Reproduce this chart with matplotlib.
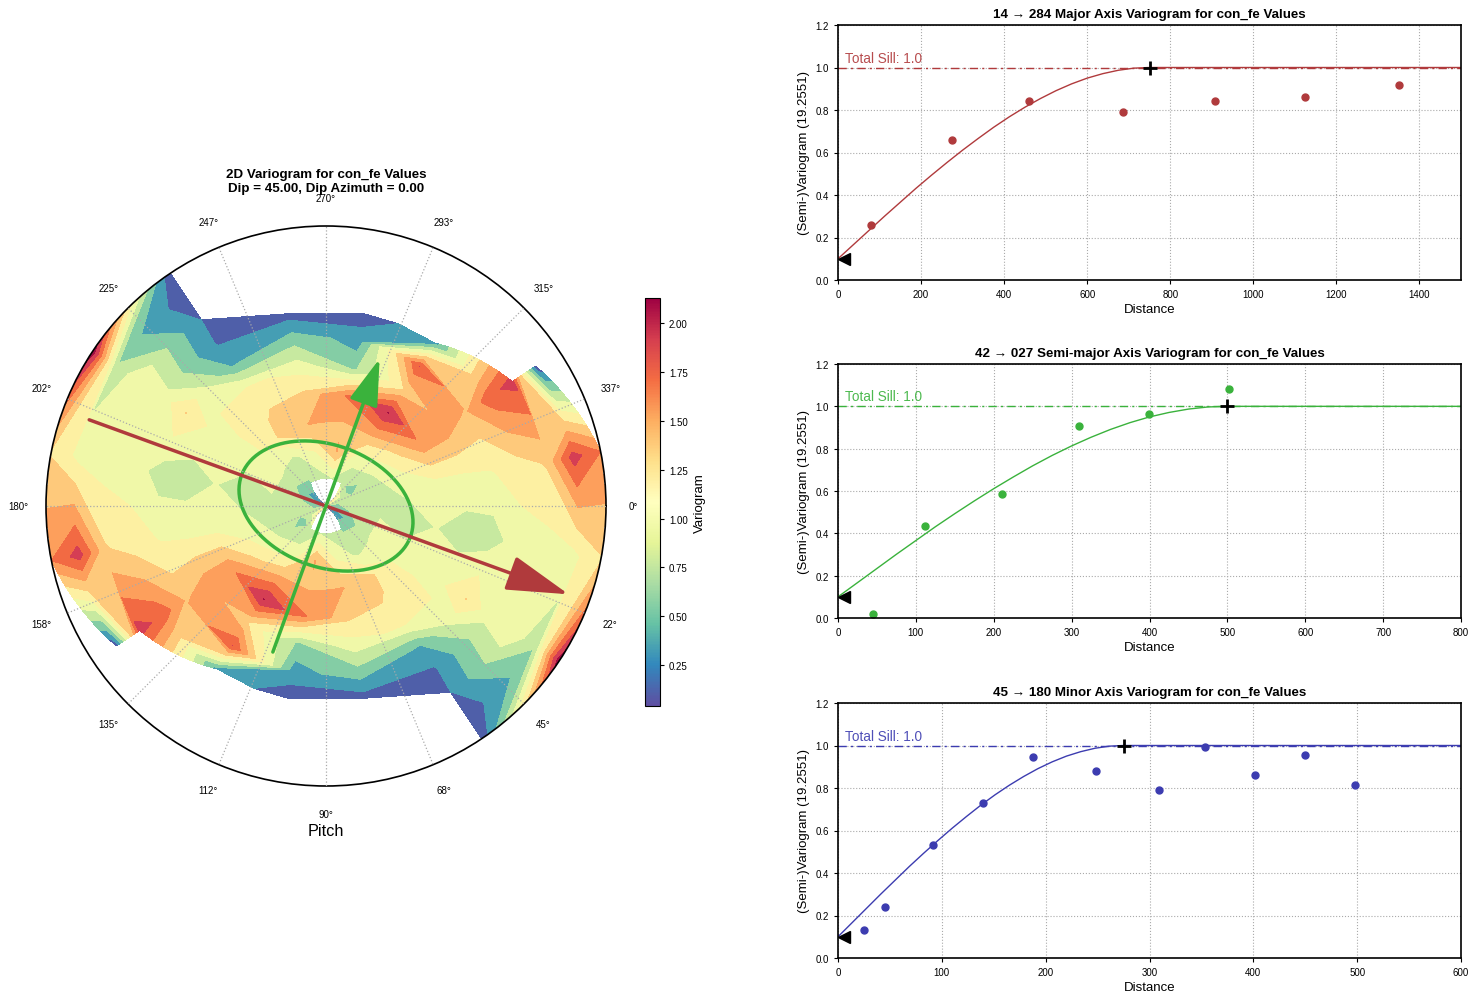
import numpy as np
import matplotlib
matplotlib.use('Agg')
import matplotlib.pyplot as plt
from matplotlib.cm import ScalarMappable
from matplotlib.colors import Normalize

plt.rcParams['font.family'] = ['Liberation Sans', 'DejaVu Sans']

nan = float('nan')

# variogram map, one row per direction, one column per lag (map repeats after 180 deg)
map_dirs = [11.25, 33.75, 56.25, 78.75, 101.25, 123.75, 146.25, 168.75]
map_lags = [0, 1, 2, 3, 4, 5, 6, 7, 8, 9, 10]
map_values = [
    [0.30, 0.66, 0.796, 0.68, 0.806, 0.70, 0.70, 0.90, 0.92, 0.94, 1.18],
    [0.04, 0.50, 0.84, 0.90, 0.944, 0.97, 1.206, 0.88, 0.98, 0.62, 2.13],
    [nan, 0.58, 0.73, 1.22, 1.19, 1.06, 0.39, 0.18, 0.196, 0.08, 0.06],
    [nan, 0.70, 1.00, 1.41, 1.26, 0.92, 0.534, 0.10, nan, nan, nan],
    [nan, 0.78, 1.41, 1.38, 1.62, 0.56, 0.30, 0.10, nan, nan, nan],
    [nan, 0.72, 0.84, 1.40, 2.004, 1.196, 1.806, 0.32, nan, nan, nan],
    [1.24, 0.47, 0.80, 1.10, 1.54, 1.52, 1.37, 1.72, 1.88, 0.06, nan],
    [0.50, 0.72, 0.72, 0.86, 0.92, 0.94, 0.98, 1.10, 1.22, 1.89, 1.60],
]
map_min = 0.04
map_max = 2.13
band_colors = ['#4f5fa9', '#459eb4', '#84cda5', '#c7e9a0', '#f0f8a8', '#fdf0a2',
               '#fec97b', '#fd9f5c', '#f26a43', '#d53e54', '#a00f43']
pitch_ticks = [0, 22.5, 45, 67.5, 90, 112.5, 135, 157.5, 180, 202.5, 225, 247.5, 270, 292.5, 315, 337.5]
pitch_labels = ['0°', '22°', '45°', '68°', '90°', '112°', '135°', '158°',
                '180°', '202°', '225°', '247°', '270°', '293°', '315°', '337°']

# direction, arrow tip and tail length in lag units
major_dir = 20.0
major_tip = 9.22
major_tail = 9.0
semi_dir = 290.0
semi_tip = 5.6
semi_tail = 5.55
ell_major = 3.21
ell_semi = 2.18

red = '#b03a3c'
green = '#3ab23c'
blue = '#3c3cb0'

# experimental points
major_x = [79, 274, 460, 686, 908, 1124, 1351]
major_y = [0.259, 0.659, 0.842, 0.790, 0.842, 0.861, 0.918]
semi_x = [45, 112, 211, 309, 399, 502]
semi_y = [0.019, 0.435, 0.586, 0.907, 0.964, 1.082]
minor_x = [25, 45, 91.5, 140, 188, 248, 309, 353, 402, 450, 498]
minor_y = [0.132, 0.240, 0.532, 0.729, 0.946, 0.880, 0.791, 0.993, 0.861, 0.955, 0.814]

# fitted model lines
model_y = [0.100, 0.167, 0.234, 0.301, 0.366, 0.431, 0.493, 0.553, 0.611, 0.666, 0.719,
           0.768, 0.813, 0.854, 0.891, 0.923, 0.950, 0.971, 0.987, 0.997, 1.000, 1.000]
major_model_x = [0, 37.5, 75, 112.5, 150, 187.5, 225, 262.5, 300, 337.5, 375,
                 412.5, 450, 487.5, 525, 562.5, 600, 637.5, 675, 712.5, 750, 1500]
semi_model_x = [0, 25, 50, 75, 100, 125, 150, 175, 200, 225, 250,
                275, 300, 325, 350, 375, 400, 425, 450, 475, 500, 800]
minor_model_x = [0, 13.75, 27.5, 41.25, 55, 68.75, 82.5, 96.25, 110, 123.75, 137.5,
                 151.25, 165, 178.75, 192.5, 206.25, 220, 233.75, 247.5, 261.25, 275, 600]


fig = plt.figure(figsize=(14.79, 10.03), dpi=100)

# polar map
ax = fig.add_axes([46 / 1479, 216 / 1003, 560 / 1479, 560 / 1003], projection='polar')
half = np.array(map_values)
z = np.ma.masked_invalid(np.vstack([half, half, half[:1]]))
theta = np.deg2rad(map_dirs + [d + 180 for d in map_dirs] + [map_dirs[0] + 360])
ax.set_theta_direction(-1)
ax.set_theta_offset(0)
levels = np.arange(0, 2.21, 0.2)
ax.contourf(theta, map_lags, z.T, levels=levels, colors=band_colors)
ax.set_ylim(0, 10)
ax.set_yticks([])
ax.set_xticks(np.deg2rad(pitch_ticks))
ax.set_xticklabels(pitch_labels)
ax.tick_params(axis='x', labelsize=7, pad=13, length=0)
ax.grid(True, linestyle=':', color='#aaaaaa', linewidth=0.9)
ax.set_axisbelow(False)
ax.spines['polar'].set_linewidth(1.2)
ax.set_title('2D Variogram for con_fe Values\nDip = 45.00, Dip Azimuth = 0.00',
             fontsize=9.65, fontweight='bold', y=1.062, pad=0)
ax.text(0.5, -0.079, 'Pitch', transform=ax.transAxes, ha='center', va='center', fontsize=11.7)

# direction arrows and search ellipse
arrows = [(major_dir, major_tip, major_tail, red, 3.9, 1.1), (semi_dir, semi_tip, semi_tail, green, 2.9, 0.9)]
for d, tip, tail, col, hl, hw in arrows:
    ax.annotate('', xy=(np.deg2rad(d), tip), xytext=(np.deg2rad(d + 180), tail),
                arrowprops=dict(arrowstyle='-|>,head_length=%s,head_width=%s' % (hl, hw), color=col, lw=2.5,
                                mutation_scale=10, shrinkA=0, shrinkB=0))
t = np.linspace(0, 2 * np.pi, 200)
az = np.deg2rad(major_dir)
ex = ell_major * np.cos(t) * np.cos(az) - ell_semi * np.sin(t) * np.sin(az)
ey = ell_major * np.cos(t) * np.sin(az) + ell_semi * np.sin(t) * np.cos(az)
ax.plot(np.arctan2(ey, ex), np.hypot(ex, ey), color=green, lw=2.5)

cax = fig.add_axes([645 / 1479, 296 / 1003, 15 / 1479, 408 / 1003])
cbar = fig.colorbar(ScalarMappable(Normalize(map_min, map_max), 'Spectral_r'), cax=cax,
                    ticks=[0.25, 0.5, 0.75, 1.0, 1.25, 1.5, 1.75, 2.0])
cbar.ax.tick_params(labelsize=7, length=3)
cbar.set_label('Variogram', fontsize=9.5, labelpad=4.5)


def vario_panel(box, title, px, py, mx, my, col, xmax, xticks, rng):
    a = fig.add_axes(box)
    a.plot(mx, my, color=col, lw=1)
    a.plot([0, xmax], [1, 1], color=col, lw=1, linestyle=(0, (6, 3, 1.5, 3)))
    a.plot(px, py, 'o', color=col, ms=5, clip_on=False)
    a.plot([rng], [1], '+', color='k', ms=10, mew=2, zorder=5)
    a.plot([xmax * 14 / 1500], [0.1], '<', color='k', ms=8, zorder=5, clip_on=False)
    a.text(xmax * 18 / 1500, 1.028, 'Total Sill: 1.0', color=col, fontsize=9.8, alpha=0.9)
    a.set_xlim(0, xmax)
    a.set_ylim(0, 1.2)
    a.set_xticks(xticks)
    a.set_yticks([0, 0.2, 0.4, 0.6, 0.8, 1.0, 1.2])
    a.tick_params(labelsize=7, length=3)
    a.grid(True, linestyle=':', color='#aaaaaa', linewidth=0.8)
    a.set_axisbelow(True)
    for s in a.spines.values():
        s.set_linewidth(1.2)
    a.set_title(title, fontsize=9.65, fontweight='bold', pad=6)
    a.set_xlabel('Distance', fontsize=9.5, labelpad=3)
    a.set_ylabel('(Semi-)Variogram (19.2551)', fontsize=9.5, labelpad=4)
    return a


vario_panel([838 / 1479, 722 / 1003, 623 / 1479, 255 / 1003], '14 → 284 Major Axis Variogram for con_fe Values',
            major_x, major_y, major_model_x, model_y, red, 1500, range(0, 1401, 200), 750)
vario_panel([838 / 1479, 384 / 1003, 623 / 1479, 254 / 1003], '42 → 027 Semi-major Axis Variogram for con_fe Values',
            semi_x, semi_y, semi_model_x, model_y, green, 800, range(0, 801, 100), 500)
vario_panel([838 / 1479, 44 / 1003, 623 / 1479, 255 / 1003], '45 → 180 Minor Axis Variogram for con_fe Values',
            minor_x, minor_y, minor_model_x, model_y, blue, 600, range(0, 601, 100), 275)

plt.savefig('out.png', dpi=100)
